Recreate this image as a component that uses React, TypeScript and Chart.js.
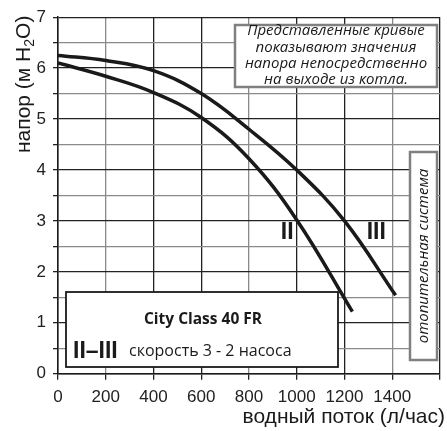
import React, { useEffect, useRef } from "react";
import { Chart, registerables } from "chart.js";

Chart.register(...registerables);

const flowII = [0, 200, 400, 600, 800, 1000, 1233];
const headII = [6.1, 5.84, 5.52, 5.03, 4.22, 3.02, 1.22];
const flowIII = [0, 200, 400, 600, 800, 1000, 1200, 1414];
const headIII = [6.25, 6.15, 5.95, 5.5, 4.8, 4.0, 3.0, 1.54];

const curveLabels = ["II", "III"];
const curveLabelX = [960, 1333];
const curveLabelY = [2.76, 2.76];

const xTicks = [0, 200, 400, 600, 800, 1000, 1200, 1400];
const yTicks = [0, 1, 2, 3, 4, 5, 6, 7];

const xTitle = "водный поток (л/час)";
const yTitleParts = ["напор (м H", "2", "O)"];
const noteLines = [
  "Представленные кривые",
  "показывают значения",
  "напора непосредственно",
  "на выходе из котла.",
];
const sideNote = "отопительная система";
const legendTitle = "City Class 40 FR";
const legendMark = "II–III";
const legendText = "скорость 3 - 2 насоса";

const overlay = {
  id: "overlay",
  afterDatasetsDraw(chart: any) {
    const ctx = chart.ctx;
    const xs = chart.scales.x;
    const ys = chart.scales.y;
    ctx.save();

    // curve labels
    ctx.fillStyle = "#1a1a1a";
    ctx.font = "bold 23px 'Liberation Sans'";
    ctx.textAlign = "center";
    ctx.textBaseline = "middle";
    curveLabels.forEach((t, i) => {
      ctx.fillText(t, xs.getPixelForValue(curveLabelX[i]), ys.getPixelForValue(curveLabelY[i]));
    });

    // top-right note box
    ctx.fillStyle = "#fff";
    ctx.fillRect(235, 25, 202, 62);
    ctx.strokeStyle = "#808080";
    ctx.lineWidth = 2.5;
    ctx.strokeRect(235, 25, 202, 62);
    ctx.fillStyle = "#1a1a1a";
    ctx.font = "italic 15px 'Open Sans'";
    ctx.textAlign = "center";
    ctx.textBaseline = "middle";
    noteLines.forEach((l, i) => {
      ctx.fillText(l, 336, 31 + i * 16.3);
    });

    // vertical side box
    ctx.fillStyle = "#fff";
    ctx.fillRect(410, 152, 27, 208);
    ctx.strokeStyle = "#808080";
    ctx.strokeRect(410, 152, 27, 208);
    ctx.save();
    ctx.translate(423.5, 256);
    ctx.rotate(-Math.PI / 2);
    ctx.fillStyle = "#1a1a1a";
    ctx.font = "italic 15px 'Open Sans'";
    ctx.fillText(sideNote, 0, 0);
    ctx.restore();

    // legend box
    ctx.fillStyle = "#fff";
    ctx.fillRect(66, 292, 272, 75);
    ctx.strokeStyle = "#1a1a1a";
    ctx.lineWidth = 1.8;
    ctx.strokeRect(66, 292, 272, 75);
    ctx.fillStyle = "#1a1a1a";
    ctx.font = "bold 15.5px 'Open Sans'";
    ctx.textAlign = "center";
    ctx.fillText(legendTitle, 203, 320);
    ctx.textAlign = "left";
    ctx.font = "bold 23px 'Liberation Sans'";
    ctx.fillText(legendMark, 73, 352);
    ctx.font = "16px 'Open Sans'";
    ctx.fillText(legendText, 129, 351);

    // y title
    ctx.save();
    ctx.translate(24, 153);
    ctx.rotate(-Math.PI / 2);
    ctx.textAlign = "left";
    ctx.textBaseline = "middle";
    ctx.fillStyle = "#1a1a1a";
    ctx.font = "21px 'Liberation Sans'";
    let x = 0;
    ctx.fillText(yTitleParts[0], x, 0);
    x += ctx.measureText(yTitleParts[0]).width;
    ctx.font = "14px 'Liberation Sans'";
    ctx.fillText(yTitleParts[1], x, 6);
    x += ctx.measureText(yTitleParts[1]).width;
    ctx.font = "21px 'Liberation Sans'";
    ctx.fillText(yTitleParts[2], x, 0);
    ctx.restore();

    // x title
    ctx.font = "21px 'Liberation Sans'";
    ctx.textAlign = "right";
    ctx.textBaseline = "middle";
    ctx.fillText(xTitle, 445, 417);

    ctx.restore();
  },
};

export default function App() {
  const ref = useRef<HTMLCanvasElement>(null);
  useEffect(() => {
    const toPts = (xs: number[], ys: number[]) => xs.map((v, i) => ({ x: v, y: ys[i] }));
    const chart = new Chart(ref.current as HTMLCanvasElement, {
      type: "line",
      data: {
        datasets: [
          {
            data: toPts(flowII, headII),
            borderColor: "#1a1a1a",
            borderWidth: 3.5,
            pointRadius: 0,
            tension: 0.4,
            borderCapStyle: "butt",
          },
          {
            data: toPts(flowIII, headIII),
            borderColor: "#1a1a1a",
            borderWidth: 3.5,
            pointRadius: 0,
            tension: 0.4,
            borderCapStyle: "butt",
          },
        ],
      },
      options: {
        animation: false,
        responsive: false,
        maintainAspectRatio: false,
        layout: { padding: { top: 16, right: 0, left: 0, bottom: 0 } },
        plugins: { legend: { display: false }, tooltip: { enabled: false } },
        scales: {
          x: {
            type: "linear",
            min: 0,
            max: 1600,
            afterBuildTicks: (s: any) => {
              s.ticks = [...xTicks, 1600].map((v) => ({ value: v }));
            },
            afterFit: (s: any) => {
              s.height = 57.3;
            },
            border: { display: true, color: "#1a1a1a", width: 1.5 },
            grid: {
              color: (c: any) => {
                const v = c.tick ? c.tick.value : 0;
                return v === 200 || v === 800 || v === 1400 ? "#8a8a8a" : "#222";
              },
              lineWidth: 1.3,
              tickLength: 6,
              tickColor: "#222",
            },
            ticks: {
              color: "#222",
              font: { family: "'Liberation Sans'", size: 17 },
              padding: 7,
              maxRotation: 0,
              callback: (v: any) => (xTicks.includes(Number(v)) ? String(v) : ""),
            },
          },
          y: {
            type: "linear",
            min: 0,
            max: 7,
            afterBuildTicks: (s: any) => {
              const t: any[] = [];
              for (let i = 0; i <= 14; i++) t.push({ value: i / 2 });
              s.ticks = t;
            },
            afterFit: (s: any) => {
              s.width = 58;
            },
            border: { display: true, color: "#1a1a1a", width: 1.5 },
            grid: {
              color: (c: any) => {
                const v = c.tick ? c.tick.value : 0;
                return Number.isInteger(v) ? "#222" : "#8a8a8a";
              },
              lineWidth: 1.3,
              tickLength: 5,
              tickColor: "#222",
            },
            ticks: {
              color: "#222",
              font: { family: "'Liberation Sans'", size: 17 },
              padding: 7,
              callback: (v: any) => (yTicks.includes(Number(v)) ? String(v) : ""),
            },
          },
        },
      },
      plugins: [overlay],
    } as any);
    return () => chart.destroy();
  }, []);
  return (
    <div style={{ position: "fixed", left: 0, top: 0, width: 447, height: 431, background: "#fff" }}>
      <canvas ref={ref} width={447} height={431} style={{ display: "block" }} />
    </div>
  );
}
